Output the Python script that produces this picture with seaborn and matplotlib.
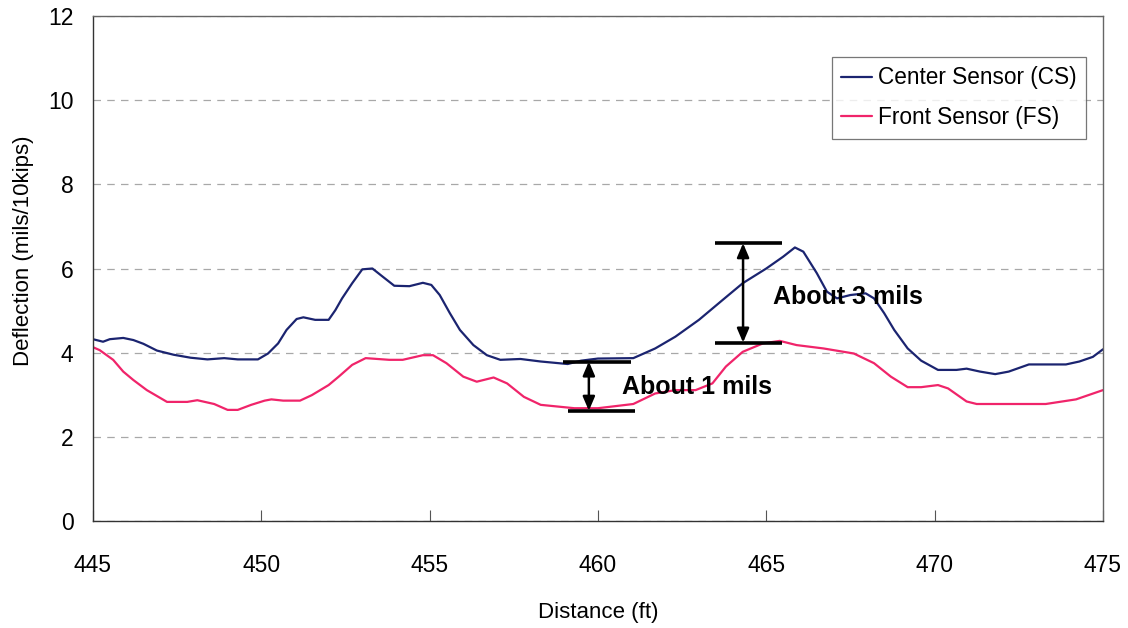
import numpy as np
import pandas as pd
import matplotlib
matplotlib.use("Agg")
import matplotlib.pyplot as plt
import seaborn as sns

# Center sensor trace
cs_x = [445.0, 445.3, 445.5, 445.9, 446.2, 446.5, 446.9, 447.4, 447.9, 448.4,
        448.9, 449.3, 449.9, 450.2, 450.5, 450.75, 451.05, 451.25, 451.6, 452.0,
        452.2, 452.4, 452.7, 453.0, 453.3, 453.6, 453.95, 454.4, 454.8, 455.05,
        455.3, 455.6, 455.9, 456.3, 456.7, 457.1, 457.7, 458.3, 459.1, 459.5,
        460.0, 461.05, 461.7, 462.3, 463.0, 463.7, 464.3, 465.0, 465.5, 465.85,
        466.1, 466.5, 466.8, 467.1, 467.5, 467.95, 468.2, 468.5, 468.8, 469.2,
        469.6, 470.1, 470.65, 470.95, 471.35, 471.8, 472.2, 472.8, 473.3, 473.9,
        474.3, 474.7, 475.0]
cs_y = [4.32, 4.26, 4.32, 4.35, 4.30, 4.21, 4.05, 3.95, 3.88, 3.84,
        3.87, 3.84, 3.84, 3.98, 4.22, 4.54, 4.80, 4.84, 4.78, 4.78,
        5.01, 5.29, 5.65, 5.98, 6.00, 5.81, 5.59, 5.58, 5.66, 5.61,
        5.37, 4.94, 4.54, 4.18, 3.94, 3.83, 3.85, 3.79, 3.73, 3.81,
        3.86, 3.87, 4.10, 4.38, 4.78, 5.25, 5.65, 6.00, 6.28, 6.50,
        6.40, 5.89, 5.45, 5.29, 5.37, 5.41, 5.29, 4.94, 4.54, 4.10,
        3.81, 3.59, 3.59, 3.62, 3.55, 3.49, 3.55, 3.72, 3.72, 3.72,
        3.79, 3.90, 4.08]

# Front sensor trace
fs_x = [445.0, 445.2, 445.6, 445.9, 446.2, 446.6, 447.2, 447.8, 448.1, 448.6,
        449.0, 449.3, 449.7, 450.1, 450.3, 450.65, 451.15, 451.5, 452.0, 452.3,
        452.7, 453.1, 453.8, 454.2, 454.8, 455.1, 455.5, 456.0, 456.4, 456.9,
        457.3, 457.8, 458.3, 458.8, 459.3, 460.0, 461.05, 461.7, 462.3, 462.9,
        463.4, 463.8, 464.3, 464.9, 465.4, 465.9, 466.7, 467.3, 467.6, 468.2,
        468.7, 469.2, 469.6, 470.1, 470.4, 470.95, 471.25, 473.3, 474.2, 475.0]
fs_y = [4.13, 4.06, 3.83, 3.55, 3.35, 3.11, 2.83, 2.83, 2.87, 2.78,
        2.64, 2.64, 2.76, 2.86, 2.89, 2.86, 2.86, 2.99, 3.23, 3.43,
        3.71, 3.87, 3.83, 3.83, 3.94, 3.94, 3.75, 3.43, 3.31, 3.41,
        3.27, 2.95, 2.76, 2.72, 2.68, 2.68, 2.78, 3.03, 3.11, 3.11,
        3.27, 3.67, 4.02, 4.22, 4.28, 4.18, 4.10, 4.02, 3.98, 3.75,
        3.43, 3.18, 3.18, 3.23, 3.15, 2.84, 2.78, 2.78, 2.89, 3.11]

# gap markers: arrow x, low/high value, bar extent, label
gap_x = [459.73, 464.31]
gap_lo = [2.62, 4.24]
gap_hi = [3.79, 6.60]
gap_bar_lo = [(459.1, 461.1), (463.47, 465.48)]
gap_bar_hi = [(458.97, 460.98), (463.47, 465.48)]
gap_text = ["About 1 mils", "About 3 mils"]
gap_text_pos = [(460.71, 3.18), (465.2, 5.33)]

x_ticks = [445, 450, 455, 460, 465, 470, 475]
y_ticks = [0, 2, 4, 6, 8, 10, 12]

sns.set_theme(style="white")
plt.rcParams['font.family'] = ['Liberation Sans', 'DejaVu Sans']
plt.rcParams['text.color'] = 'black'
plt.rcParams['axes.labelcolor'] = 'black'
plt.rcParams['xtick.color'] = 'black'
plt.rcParams['ytick.color'] = 'black'

fig = plt.figure(figsize=(11.28, 6.28), dpi=100)
ax = fig.add_axes([0.0824, 0.1704, 0.8954, 0.8041])

cs = pd.DataFrame({"x": cs_x, "y": cs_y})
fs = pd.DataFrame({"x": fs_x, "y": fs_y})
sns.lineplot(data=cs, x="x", y="y", ax=ax, color="#1b2470", lw=1.6,
             label="Center Sensor (CS)")
sns.lineplot(data=fs, x="x", y="y", ax=ax, color="#f0246a", lw=1.6,
             label="Front Sensor (FS)")

ax.set_xlim(445, 475)
ax.set_ylim(0, 12)
ax.set_xticks(x_ticks)
ax.set_yticks(y_ticks)
ax.yaxis.grid(True, color="#a8a8a8", linestyle=(0, (6, 5)), lw=0.9)
ax.xaxis.grid(False)

ax.tick_params(axis="x", bottom=True, direction="in", length=8, width=0.8,
               color="#555555", labelcolor="black", pad=24, labelsize=16.5)
ax.tick_params(axis="y", left=False, length=0, pad=14, labelsize=16.5,
               labelcolor="black")
for s in ax.spines.values():
    s.set_color("#333333")
    s.set_linewidth(1.0)
ax.spines["top"].set_color("#666666")
ax.spines["right"].set_color("#666666")

ax.set_xlabel("Distance (ft)", fontsize=16, labelpad=18)
ax.set_ylabel("Deflection (mils/10kips)", fontsize=16)
ax.yaxis.set_label_coords(-0.058, 0.535)

for i in range(len(gap_x)):
    ax.hlines(gap_lo[i], *gap_bar_lo[i], color="black", lw=2.6)
    ax.hlines(gap_hi[i], *gap_bar_hi[i], color="black", lw=2.6)
    ax.annotate("", xy=(gap_x[i], gap_hi[i]), xytext=(gap_x[i], gap_lo[i]),
                arrowprops=dict(arrowstyle="<|-|>,head_length=0.7,head_width=0.3",
                                color="black", lw=1.8, shrinkA=0, shrinkB=0))
    ax.text(gap_text_pos[i][0], gap_text_pos[i][1], gap_text[i], fontsize=18,
            fontweight="bold", va="center", ha="left", color="black")

leg = ax.legend(loc="upper right", bbox_to_anchor=(0.983, 0.919), fontsize=16.3,
                frameon=True, fancybox=False, handlelength=1.35, handletextpad=0.25,
                borderpad=0.42, labelspacing=0.75, borderaxespad=0)
leg.get_frame().set_edgecolor("#555555")
leg.get_frame().set_linewidth(0.9)
for t in leg.get_texts():
    t.set_color("black")

fig.savefig("out.png", dpi=100)
